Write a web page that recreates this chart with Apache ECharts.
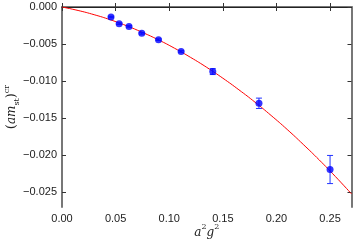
<!DOCTYPE html>
<html><head><meta charset="utf-8">
<script src="https://cdn.jsdelivr.net/npm/echarts@6/dist/echarts.min.js"></script>
<style>html,body{margin:0;padding:0;background:#fff}#c{width:359px;height:243px}</style>
</head><body><div id="c"></div>
<script>
// data
const xVals = [0.0457, 0.0533, 0.0625, 0.0744, 0.0900, 0.1111, 0.1406, 0.1837, 0.2500];
const yVals = [-0.00135, -0.00225, -0.00262, -0.00356, -0.00441, -0.00600, -0.00872, -0.01300, -0.02194];
const yErrs = [0.0001, 0.0001, 0.0001, 0.0001, 0.0001, 0.0001, 0.0004, 0.0007, 0.0019];
const fitX = [0, 0.015, 0.03, 0.045, 0.06, 0.075, 0.09, 0.105, 0.12, 0.135, 0.15, 0.165, 0.18, 0.195, 0.21, 0.225, 0.24, 0.255, 0.27];
const fitY = [0, -0.00047, -0.00104, -0.00172, -0.00252, -0.00343, -0.00444, -0.00557, -0.00681, -0.00815, -0.00961, -0.01118, -0.01285, -0.01464, -0.01653, -0.01855, -0.02066, -0.02289, -0.02523];
const xTicks = [0, 0.05, 0.10, 0.15, 0.20, 0.25];
const yTicks = [0, -0.005, -0.010, -0.015, -0.020, -0.025];

const font = 'Liberation Sans';
const fmtY = v => (v < 0 ? '\u2212' : '') + Math.abs(v).toFixed(3);
const fmtX = v => v.toFixed(2);

const pts = xVals.map((x, i) => [x, yVals[i]]);
const errs = xVals.map((x, i) => [x, yVals[i] - yErrs[i], yVals[i] + yErrs[i]]);
const fit = fitX.map((x, i) => [x, fitY[i]]);

const chart = echarts.init(document.getElementById('c'), null, {renderer: 'canvas'});
const baseX = {type: 'value', min: 0, max: 0.27};
const baseY = {type: 'value', min: -0.027, max: 0};
chart.setOption({
  animation: false,
  grid: {left: 62, right: 7.5, top: 7, bottom: 36, containLabel: false, outerBoundsMode: 'none'},
  xAxis: [
    Object.assign({}, baseX, {
      position: 'bottom',
      axisLine: {show: true, lineStyle: {color: '#777', width: 2}},
      axisTick: {show: true, inside: true, length: 4, lineStyle: {color: '#333'}, customValues: xTicks},
      axisLabel: {show: true, customValues: xTicks, formatter: fmtX, fontFamily: font, fontSize: 11, color: '#222', margin: 6},
      splitLine: {show: false},
      name: '{i|a}{s|2}{i|g}{s|2}',
      nameLocation: 'middle', nameGap: 16, nameMoveOverlap: false,
      nameTextStyle: {rich: {
        i: {fontFamily: 'DejaVu Serif', fontStyle: 'italic', fontSize: 12, color: '#222', lineHeight: 16, verticalAlign: 'bottom'},
        s: {fontFamily: 'DejaVu Serif', fontSize: 8, color: '#222', lineHeight: 16, verticalAlign: 'top'}
      }}
    }),
    Object.assign({}, baseX, {
      position: 'top',
      axisLine: {show: true, onZero: false, lineStyle: {color: '#222', width: 1}},
      axisTick: {show: true, inside: true, length: 4, lineStyle: {color: '#333'}, customValues: xTicks},
      axisLabel: {show: false},
      splitLine: {show: false}
    })
  ],
  yAxis: [
    Object.assign({}, baseY, {
      position: 'left',
      axisLine: {show: true, onZero: false, lineStyle: {color: '#777', width: 2}},
      axisTick: {show: true, inside: true, length: 4, lineStyle: {color: '#333'}, customValues: yTicks},
      axisLabel: {show: true, customValues: yTicks, formatter: fmtY, fontFamily: font, fontSize: 11, color: '#222', margin: 5},
      splitLine: {show: false},
      name: '{p|(}{i|am}{b|st}{p|)}{t|cr}',
      nameLocation: 'middle', nameGap: 41, nameRotate: 90, nameMoveOverlap: false,
      nameTextStyle: {rich: {
        p: {fontFamily: 'DejaVu Serif', fontSize: 13, color: '#222', lineHeight: 18, verticalAlign: 'middle'},
        i: {fontFamily: 'DejaVu Serif', fontStyle: 'italic', fontSize: 12, color: '#222', lineHeight: 18, verticalAlign: 'middle'},
        b: {fontFamily: 'DejaVu Serif', fontSize: 8, color: '#222', lineHeight: 18, verticalAlign: 'bottom'},
        t: {fontFamily: 'DejaVu Serif', fontSize: 8, color: '#222', lineHeight: 18, verticalAlign: 'top'}
      }}
    }),
    Object.assign({}, baseY, {
      position: 'right',
      axisLine: {show: true, onZero: false, lineStyle: {color: '#777', width: 2}},
      axisTick: {show: true, inside: true, length: 4, lineStyle: {color: '#333'}, customValues: yTicks},
      axisLabel: {show: false},
      splitLine: {show: false}
    })
  ],
  series: [
    {
      type: 'line', data: fit, smooth: true, showSymbol: false, symbol: 'none',
      lineStyle: {color: '#ff0000', width: 1}, z: 2, clip: true
    },
    {
      type: 'custom', z: 3,
      data: errs,
      renderItem: function (params, api) {
        const x = api.value(0);
        const lo = api.coord([x, api.value(1)]);
        const hi = api.coord([x, api.value(2)]);
        const cw = 3;
        const st = {stroke: '#2233ff', lineWidth: 1};
        return {type: 'group', children: [
          {type: 'line', shape: {x1: lo[0], y1: lo[1], x2: hi[0], y2: hi[1]}, style: st},
          {type: 'line', shape: {x1: lo[0] - cw, y1: lo[1], x2: lo[0] + cw, y2: lo[1]}, style: st},
          {type: 'line', shape: {x1: hi[0] - cw, y1: hi[1], x2: hi[0] + cw, y2: hi[1]}, style: st}
        ]};
      }
    },
    {
      type: 'scatter', data: pts, symbol: 'circle', symbolSize: 7,
      itemStyle: {color: '#0000ff'}, z: 4
    }
  ]
});
</script></body></html>
